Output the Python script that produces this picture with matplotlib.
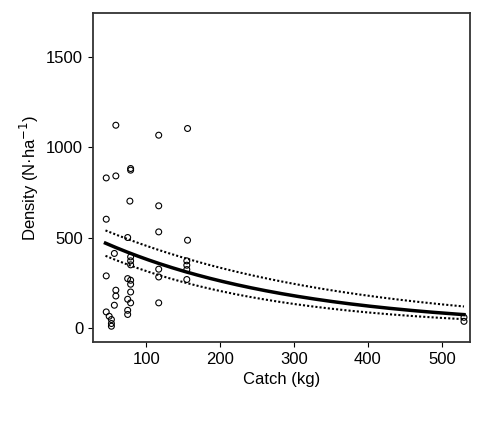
import numpy as np
import matplotlib.pyplot as plt

plt.rcParams['font.family'] = ['Liberation Sans', 'DejaVu Sans']

# observed catch (kg) and density (N/ha)
catch = [59, 117, 156, 46, 59, 79, 79, 78, 117, 46, 117, 75, 156, 57, 79, 79, 79,
         117, 117, 155, 155, 155, 155, 46, 75, 79, 79, 59, 59, 79, 75, 79, 57, 117,
         75, 75, 46, 50, 53, 53, 53, 530, 530]
density = [1121, 1066, 1103, 830, 841, 882, 873, 702, 676, 602, 532, 501, 486, 413,
           394, 372, 350, 326, 283, 372, 348, 324, 269, 289, 274, 265, 243, 210, 178,
           200, 160, 140, 127, 140, 99, 76, 90, 66, 48, 26, 11, 60, 38]

# fitted exponential model a*exp(-b*x) and its band
fit = (557, 0.00378)
upper = (621, 0.0031)
lower = (485, 0.00429)

x = np.linspace(45, 530, 200)

fig = plt.figure(figsize=(4.79, 4.24), dpi=100)
ax = fig.add_axes([0.194, 0.193, 0.787, 0.776])
ax.scatter(catch, density, s=18, facecolors='none', edgecolors='black', linewidths=0.8)
ax.plot(x, fit[0] * np.exp(-fit[1] * x), color='black', lw=2.5)
ax.plot(x, upper[0] * np.exp(-upper[1] * x), color='black', lw=1.5, ls=(0, (1, 1)))
ax.plot(x, lower[0] * np.exp(-lower[1] * x), color='black', lw=1.5, ls=(0, (1, 1)))

ax.set_xlim(28, 538)
ax.set_ylim(-77, 1740)
ax.set_xticks([100, 200, 300, 400, 500])
ax.set_yticks([0, 500, 1000, 1500])
ax.tick_params(labelsize=12)
for s in ax.spines.values():
    s.set_linewidth(1.3)
    s.set_color('#333333')
ax.set_xlabel('Catch (kg)', fontsize=12)
ax.set_ylabel('Density (N·ha$^{-1}$)', fontsize=12)

fig.savefig('out.png', dpi=100)
